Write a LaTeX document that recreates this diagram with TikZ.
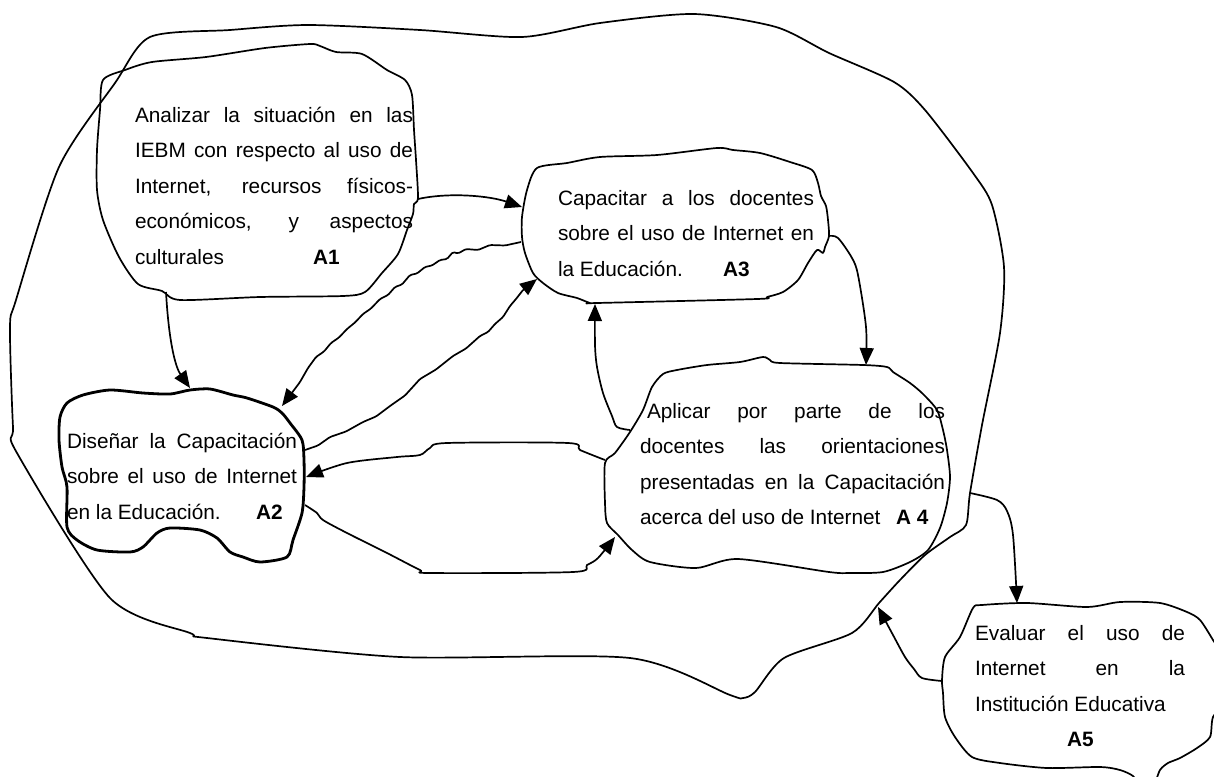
\documentclass[tikz,border=0pt]{standalone}
\usepackage{fontspec}
\setmainfont{Liberation Sans}
\usetikzlibrary{arrows.meta}
\newcommand\jline[2]{\makebox[#1][s]{#2}}
\newcommand\blobfont{\fontsize{20.8pt}{35.5pt}\selectfont}
\begin{document}
\begin{tikzpicture}[x=1pt,y=-1pt,
  blob/.style={line width=1.7pt, line join=round},
  thickblob/.style={line width=2.8pt, line join=round},
  arr/.style={line width=1.7pt, line join=round, -{Triangle[length=17pt,width=14pt]}},
  wavy/.style={rounded corners=1.5pt},
  txt/.style={anchor=base west, inner sep=0pt, outer sep=0pt}]
\useasboundingbox (0,0) rectangle (1214,776);
\fill[white] (0,0) rectangle (1214,776);
\clip (0,0) rectangle (1214,776);

% outer blob
\draw[blob] plot[smooth cycle, tension=0.45] coordinates {
 (150,37) (230,30) (308,25) (420,30) (522,37) (600,23) (694,14) (776,27)
 (829,53) (894,82) (925,110) (973,173) (992,205) (1004,267) (1000,333)
 (982,425) (970,493) (966,525) (950,537) (925,555) (900,580) (879,603)
 (852,633) (784,658) (755,692) (743,698) (730,695) (630,658) (400,657)
 (207,638) (190,633) (110,598) (17,453) (13,427) (10,327) (16,300)
 (59,167) (115,83)};

% A1 blob
\draw[blob] plot[smooth cycle, tension=0.45] coordinates {
 (103,80) (125,70) (152,62) (206,57) (265,48) (310,44) (320,46) (336,52)
 (362,54) (387,70) (405,80) (412,95) (414,130) (416,160) (418,198) (414,204)
 (413,214) (407,230) (398,254) (382,273) (365,292) (343,296) (260,297)
 (180,300) (162,291) (138,284) (119,257) (103,220) (97,190) (97,150) (100,110)};

% A3 blob
\draw[blob] plot[smooth cycle, tension=0.45] coordinates {
 (527,190) (537,168) (567,163) (600,157) (657,155) (717,148) (733,150)
 (760,153) (790,162) (812,170) (818,183) (821,196) (826,206) (828,220)
 (829,236) (825,247) (823,253) (817,250) (808,263) (798,280) (783,292)
 (767,297) (757,299) (597,303) (590,303) (577,298) (558,293) (543,283)
 (533,273) (525,253) (522,237) (522,217)};

% A2 blob
\draw[thickblob] plot[smooth cycle, tension=0.45] coordinates {
 (67,403) (83,395) (110,390) (143,393) (170,394) (190,390) (210,389)
 (233,395) (247,398) (273,407) (282,413) (290,423) (302,440) (304,460)
 (304,487) (302,513) (293,540) (287,557) (260,562) (243,557) (230,552)
 (217,538) (200,530) (170,528) (157,533) (143,547) (130,552) (97,550)
 (77,540) (67,527) (67,487) (62,467) (59,440) (60,417)};

% A4 blob
\draw[blob] plot[smooth cycle, tension=0.45] coordinates {
 (605,463) (615,453) (630,432) (643,410) (652,387) (663,374) (677,370)
 (707,365) (740,362) (763,357) (770,360) (780,363) (863,365) (887,367)
 (893,372) (910,383) (923,394) (937,410) (943,430) (947,450) (950,477)
 (947,503) (940,528) (928,550) (910,562) (883,572) (850,573) (829,572)
 (738,559) (696,568) (650,562) (632,550) (618,535) (607,523) (605,503)};

% A5 blob
\draw[blob] plot[smooth cycle, tension=0.45] coordinates {
 (973,608) (982,605) (1027,603) (1087,607) (1120,602) (1160,603)
 (1187,612) (1200,620) (1213,640) (1226,662) (1226,700) (1213,717)
 (1210,737) (1197,748) (1180,758) (1168,763) (1160,770) (1153,786)
 (1140,786) (1133,776) (1120,770) (1100,767) (1047,768) (1000,763)
 (972,757) (955,737) (945,717) (943,693) (942,680) (945,657) (960,637)};

% texts
\node[txt] (t1) at (135,122) {\parbox[t]{278pt}{\blobfont
 \jline{278pt}{Analizar la situación en las}\\
 \jline{278pt}{IEBM con respecto al uso de}\\
 \jline{278pt}{Internet, recursos físicos-}\\
 \jline{278pt}{económicos, y aspectos}\\
 \makebox[178pt][l]{culturales}\textbf{A1}}};

\node[txt] (t3) at (558,205) {\parbox[t]{256pt}{\blobfont
 \jline{256pt}{Capacitar a los docentes}\\
 \jline{256pt}{sobre el uso de Internet en}\\
 \makebox[165pt][l]{la Educación.}\textbf{A3}}};

\node[txt] (t2) at (67,448) {\parbox[t]{230pt}{\blobfont
 \jline{230pt}{Diseñar la Capacitación}\\
 \jline{230pt}{sobre el uso de Internet}\\
 \makebox[189pt][l]{en la Educación.}\textbf{A2}}};

\node[txt] (t4) at (640,418) {\parbox[t]{305pt}{\blobfont
 \jline{305pt}{\hspace*{7pt}Aplicar por parte de los}\\
 \jline{305pt}{docentes las orientaciones}\\
 \jline{305pt}{presentadas en la Capacitación}\\
 \makebox[256pt][l]{acerca del uso de Internet}\textbf{A 4}}};

\node[txt] (t5) at (975,640) {\parbox[t]{210pt}{\blobfont
 \jline{210pt}{Evaluar el uso de}\\
 \jline{210pt}{Internet en la}\\
 Institución Educativa\\
 \hspace*{92pt}\textbf{A5}}};

% connector end points
\coordinate (a1e) at (418,199);
\coordinate (a3w) at (522,207);
\coordinate (a1s) at (166,292);
\coordinate (a2n) at (190,388);
\coordinate (a3wl) at (521,242);
\coordinate (a2ne) at (282,406);
\coordinate (a2e1) at (305,450);
\coordinate (a3sw) at (537,279);
\coordinate (a4w) at (605,460);
\coordinate (a2e2) at (306,477);
\coordinate (a2e3) at (305,505);
\coordinate (a4sw) at (615,537);
\coordinate (a4nw) at (630,430);
\coordinate (a3s) at (595,304);
\coordinate (a3e) at (829,236);
\coordinate (a4n) at (866,365);
\coordinate (outr) at (970,493);
\coordinate (a5n) at (1017,603);
\coordinate (a5w) at (942,681);
\coordinate (outb) at (878,607);

% connectors
\draw[arr] (a1e) .. controls (450,192) and (490,196) .. (a3w);
\draw[arr] (a1s) .. controls (169,345) and (176,368) .. (a2n);
\draw[arr, wavy] (a3wl) -- (505,245.5) -- (490,245) -- (478,250) -- (466,249)
  -- (458,253.5) -- (453,252) -- (447,259) -- (440,260) -- (432,265.5)
  -- (425,267) -- (417,273.5) -- (410,275) -- (402,284.5) -- (395,287)
  -- (388,295) -- (380,299) -- (371,308.5) -- (363,314) -- (355,322.5)
  -- (347,329) -- (339,337.5) -- (331,343) -- (324,351.5) -- (316,357)
  -- (308,368) -- (300,382) -- (a2ne);
\draw[arr, wavy] (a2e1) -- (318,445.5) -- (330,437) -- (346,431.5) -- (363,422)
  -- (376,416.5) -- (390,406) -- (405,395.5) -- (420,379) -- (436,369.5)
  -- (453,356) -- (466,348.5) -- (480,336) -- (488,332) -- (495,324)
  -- (503,317) -- (510,306) -- (516,299) -- (523,290) -- (a3sw);
\draw[arr] plot[smooth, tension=0.5] coordinates {(a4w) (580,450) (568,443)
  (447,443) (430,448) (420,455) (397,457) (347,463) (a2e2)};
\draw[arr] plot[smooth, tension=0.5] coordinates {(a2e3) (317,513) (323,520)
  (347,533) (387,553) (420,570) (430,573) (573,572) (587,565) (598,558) (a4sw)};
\draw[arr] plot[smooth, tension=0.5] coordinates {(a4nw) (617,427) (612,416)
  (603,393) (597,367) (595,345) (a3s)};
\draw[arr] plot[smooth, tension=0.5] coordinates {(a3e) (838,238) (852,258)
  (858,275) (866,327) (a4n)};
\draw[arr] plot[smooth, tension=0.5] coordinates {(outr) (997,500) (1007,511)
  (1013,535) (a5n)};
\draw[arr] plot[smooth, tension=0.5] coordinates {(a5w) (922,678) (914,669)
  (905,657) (893,635) (outb)};
\end{tikzpicture}
\end{document}
